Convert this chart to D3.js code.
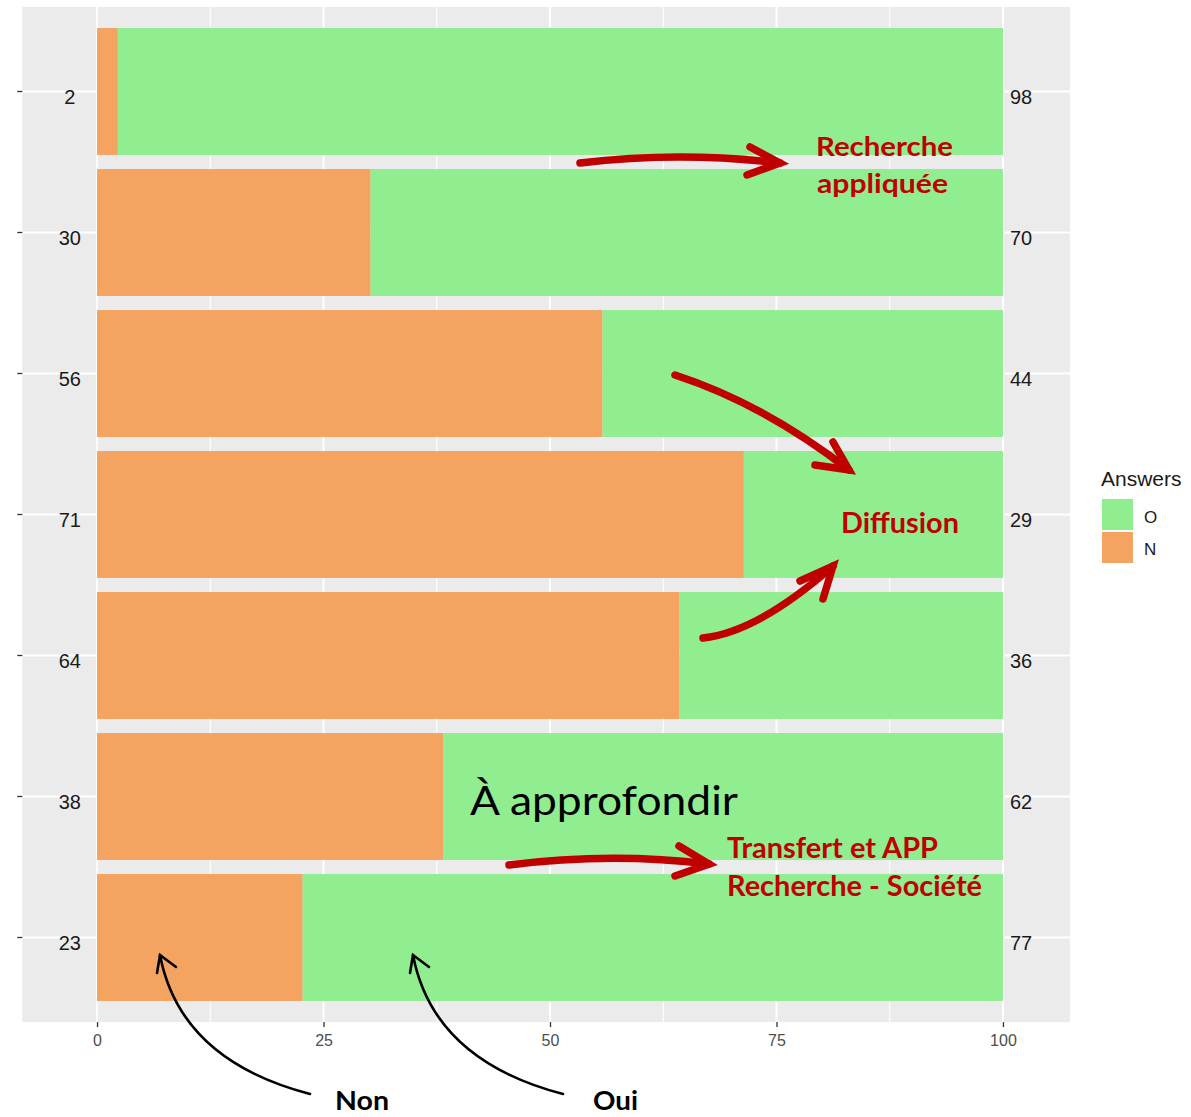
<!DOCTYPE html>
<html><head><meta charset="utf-8">
<script src="https://cdn.jsdelivr.net/npm/d3@7"></script>
<style>body{margin:0;background:#fff} svg{display:block}</style>
</head><body>
<svg id="chart" width="1191" height="1117"></svg>
<script>
// ---- data ----
const categories = ["R1","R2","R3","R4","R5","R6","R7"];
// bar shares (percent)
const nShares = [2.3, 30.2, 55.8, 71.4, 64.3, 38.2, 22.7];
const oShares = [97.7, 69.8, 44.2, 28.6, 35.7, 61.8, 77.3];
// printed (rounded) labels
const nLabels = [2, 30, 56, 71, 64, 38, 23];
const oLabels = [98, 70, 44, 29, 36, 62, 77];
const xTicks = [0, 25, 50, 75, 100];
const xMinorTicks = [12.5, 37.5, 62.5, 87.5];
const seriesKeys = ["N", "O"];
const legendKeys = ["O", "N"];
const legendTitle = "Answers";
const colors = {O: "#90EE90", N: "#F4A460"};

// ---- annotations (overlay, pixel space) ----
const redTexts = [
  {t: "Recherche", x: 816, y: 156, s: 27, len: 137},
  {t: "appliquée", x: 817, y: 193, s: 27, len: 131},
  {t: "Diffusion", x: 841, y: 533, s: 29, len: 118},
  {t: "Transfert et APP", x: 727, y: 858, s: 28, len: 211},
  {t: "Recherche - Société", x: 727, y: 896, s: 28, len: 255}
];
const blackTexts = [
  {t: "À approfondir", x: 470, y: 815, s: 40, len: 268, w: 400},
  {t: "Non", x: 335, y: 1110, s: 27, len: 54, w: 700},
  {t: "Oui", x: 593, y: 1110, s: 27, len: 45, w: 700}
];
const redArrows = [
  {p0: [580,163], c: [680,151], p1: [780,163], b1: [750,147], b2: [747,175]},
  {p0: [675,375], c: [764,404], p1: [849,470], b1: [833,442], b2: [815,465]},
  {p0: [703,638], c: [758,632], p1: [833,566], b1: [800,581], b2: [823,599]},
  {p0: [509,865], c: [610,852], p1: [709,864], b1: [679,846], b2: [675,876]}
];
const blackArrows = [
  {p0: [310,1094], c: [180,1060], p1: [160,955], b1: [157,973], b2: [176,967]},
  {p0: [563,1094], c: [433,1060], p1: [413,955], b1: [410,973], b2: [429,967]}
];

// ---- layout ----
const svg = d3.select("#chart");
const panel = {left: 22.3, right: 1070, top: 6.9, bottom: 1022.1};

const x = d3.scaleLinear().domain([-8.25, 107.4]).range([panel.left, panel.right]);
const y = d3.scaleBand().domain(categories).range([panel.top, panel.bottom])
  .paddingInner(0.1).paddingOuter(0.15);

const rows = categories.map((c, i) => ({cat: c, N: nShares[i], O: oShares[i], nl: nLabels[i], ol: oLabels[i]}));
const stacked = d3.stack().keys(seriesKeys)(rows);

// panel background
svg.append("rect").attr("x", panel.left).attr("y", panel.top)
  .attr("width", panel.right - panel.left).attr("height", panel.bottom - panel.top)
  .attr("fill", "#EBEBEB");

// gridlines
const grid = svg.append("g");
grid.selectAll(".minor").data(xMinorTicks).join("line")
  .attr("x1", d => x(d)).attr("x2", d => x(d))
  .attr("y1", panel.top).attr("y2", panel.bottom)
  .attr("stroke", "#fff").attr("stroke-width", 1.1);
grid.selectAll(".major").data(xTicks).join("line")
  .attr("x1", d => x(d)).attr("x2", d => x(d))
  .attr("y1", panel.top).attr("y2", panel.bottom)
  .attr("stroke", "#fff").attr("stroke-width", 2);
grid.selectAll(".hmajor").data(categories).join("line")
  .attr("x1", panel.left).attr("x2", panel.right)
  .attr("y1", d => y(d) + y.bandwidth() / 2).attr("y2", d => y(d) + y.bandwidth() / 2)
  .attr("stroke", "#fff").attr("stroke-width", 2);

// bars
svg.append("g").selectAll("g").data(stacked).join("g")
  .attr("fill", s => colors[s.key])
  .selectAll("rect").data(s => s).join("rect")
  .attr("x", d => x(d[0]))
  .attr("width", d => x(d[1]) - x(d[0]))
  .attr("y", d => y(d.data.cat))
  .attr("height", y.bandwidth());

// value labels
const lab = svg.append("g").attr("font-family", "Liberation Sans, Arial, sans-serif")
  .attr("font-size", 20).attr("fill", "#1a1a1a").attr("text-anchor", "middle");
lab.selectAll(".ln").data(rows).join("text")
  .attr("x", x(-3)).attr("y", d => y(d.cat) + y.bandwidth() / 2 + 5)
  .attr("dominant-baseline", "central").text(d => d.nl);
lab.selectAll(".lo").data(rows).join("text")
  .attr("x", x(102)).attr("y", d => y(d.cat) + y.bandwidth() / 2 + 5)
  .attr("dominant-baseline", "central").text(d => d.ol);

// axes
const xAxis = svg.append("g").attr("transform", `translate(0,${panel.bottom})`)
  .call(d3.axisBottom(x).tickValues(xTicks).tickSize(5).tickPadding(8));
xAxis.select(".domain").remove();
xAxis.selectAll("line").attr("stroke", "#333").attr("stroke-width", 1.3);
xAxis.selectAll("text").attr("fill", "#4D4D4D").attr("font-size", 16)
  .attr("font-family", "Liberation Sans, Arial, sans-serif");

const yAxis = svg.append("g").attr("transform", `translate(${panel.left},0)`)
  .call(d3.axisLeft(y).tickSize(5).tickFormat(""));
yAxis.select(".domain").remove();
yAxis.selectAll("line").attr("stroke", "#333").attr("stroke-width", 1.3);

// legend
const leg = svg.append("g").attr("font-family", "Liberation Sans, Arial, sans-serif");
leg.append("text").attr("x", 1101).attr("y", 486).attr("font-size", 21)
  .attr("fill", "#1a1a1a").text(legendTitle);
legendKeys.forEach((k, i) => {
  leg.append("rect").attr("x", 1102).attr("y", 499 + i * 33)
    .attr("width", 31).attr("height", 31).attr("fill", colors[k]);
  leg.append("text").attr("x", 1144).attr("y", 523 + i * 32)
    .attr("font-size", 17).attr("fill", "#1a1a1a").text(k);
});

// annotations
const ann = svg.append("g");
function arrow(a, color, w) {
  ann.append("path")
    .attr("d", `M${a.p0[0]},${a.p0[1]} Q${a.c[0]},${a.c[1]} ${a.p1[0]},${a.p1[1]}`)
    .attr("fill", "none").attr("stroke", color).attr("stroke-width", w)
    .attr("stroke-linecap", "round");
  ann.append("path")
    .attr("d", `M${a.b1[0]},${a.b1[1]} L${a.p1[0]},${a.p1[1]} L${a.b2[0]},${a.b2[1]}`)
    .attr("fill", "none").attr("stroke", color).attr("stroke-width", w)
    .attr("stroke-linecap", "round").attr("stroke-linejoin", "miter");
}
redArrows.forEach(a => arrow(a, "#C00000", 7.5));
blackArrows.forEach(a => arrow(a, "#000", 2.6));

redTexts.forEach(d => {
  ann.append("text").attr("x", d.x).attr("y", d.y)
    .attr("font-family", "Lato, 'Open Sans', sans-serif").attr("font-weight", 700)
    .attr("font-size", d.s).attr("fill", "#C00000")
    .attr("textLength", d.len).attr("lengthAdjust", "spacingAndGlyphs").text(d.t);
});
blackTexts.forEach(d => {
  ann.append("text").attr("x", d.x).attr("y", d.y)
    .attr("font-family", "Lato, 'Open Sans', sans-serif").attr("font-weight", d.w)
    .attr("font-size", d.s).attr("fill", "#000")
    .attr("textLength", d.len).attr("lengthAdjust", "spacingAndGlyphs").text(d.t);
});
</script>
</body></html>
